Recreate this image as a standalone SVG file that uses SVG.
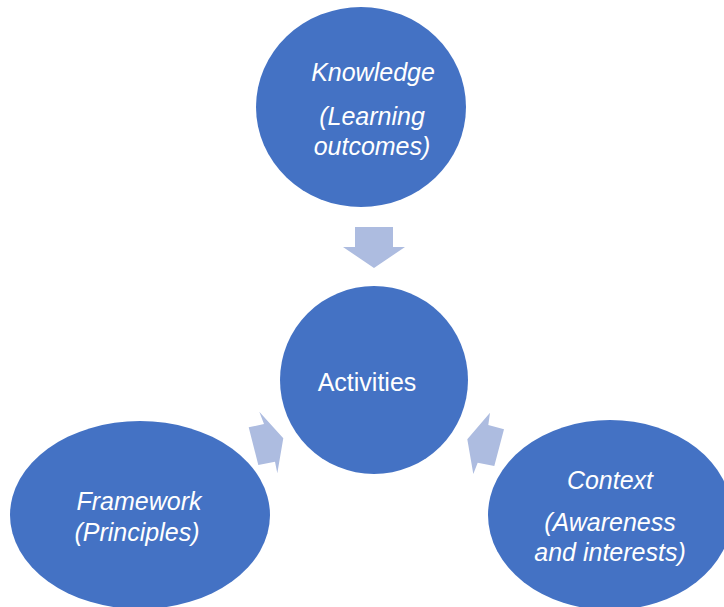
<svg xmlns="http://www.w3.org/2000/svg" width="724" height="607" viewBox="0 0 724 607">
<style>
.node{fill:#4472C4}
.arr{fill:#ADBCE0}
text{font-family:"Liberation Sans",Arial,sans-serif;fill:#fff;text-anchor:middle;font-size:25px}
.it{font-style:italic}
</style>
<rect width="724" height="607" fill="#fff"/>
<g id="connectors">
<polygon class="arr" points="355,227 393,227 393,247 405,247 374,268 343,247 355,247"/>
<polygon class="arr" points="248.7,427.3 264,424 259.3,411.7 283.3,438.3 277.3,473.3 275,461.7 258.3,465"/>
<polygon class="arr" points="504,429.3 488.3,425 490,412.7 467.3,439.3 473.3,474 477.7,462.7 494.3,466"/>
</g>
<g id="knowledge">
<ellipse class="node" cx="361" cy="107" rx="105" ry="100"/>
<text class="it" x="373" y="81">Knowledge</text>
<text class="it" x="372" y="125">(Learning</text>
<text class="it" x="372" y="155">outcomes)</text>
</g>
<g id="activities">
<circle class="node" cx="374" cy="380" r="94"/>
<text x="367" y="391">Activities</text>
</g>
<g id="framework">
<ellipse class="node" cx="140" cy="515" rx="130" ry="94"/>
<text class="it" x="139" y="510">Framework</text>
<text class="it" x="137" y="541">(Principles)</text>
</g>
<g id="context">
<ellipse class="node" cx="610" cy="515" rx="122" ry="95"/>
<text class="it" x="610" y="489">Context</text>
<text class="it" x="610" y="531">(Awareness</text>
<text class="it" x="610" y="561">and interests)</text>
</g>
</svg>
